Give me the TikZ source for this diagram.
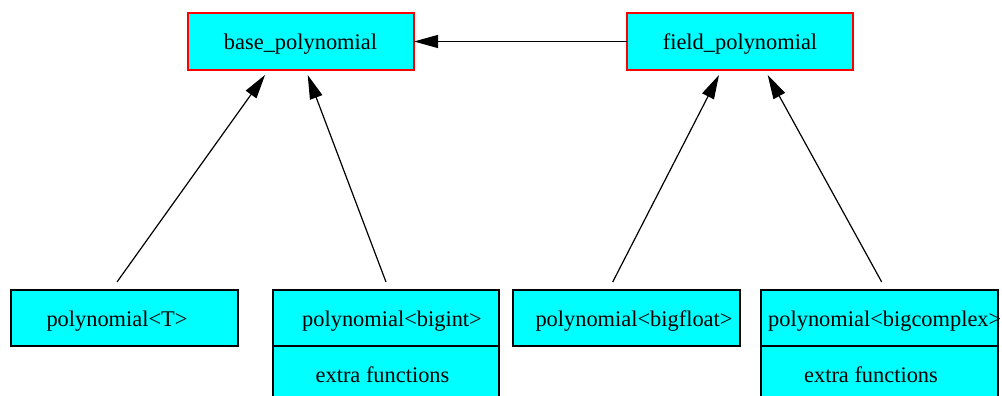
\documentclass[tikz,border=0pt]{standalone}
\usepackage{fontspec}
\setmainfont{Liberation Serif}
\usetikzlibrary{arrows.meta}
\definecolor{boxfill}{RGB}{0,255,255}
\definecolor{boxred}{RGB}{255,0,0}
\begin{document}
\begin{tikzpicture}[x=1pt,y=-1pt,
  box/.style={draw=black, fill=boxfill, line width=1.3pt, inner sep=0pt, outer sep=0pt, minimum height=56pt},
  basebox/.style={box, draw=boxred, minimum height=57pt, minimum width=226pt},
  lbl/.style={inner sep=0pt, anchor=base, font=\fontsize{22.4}{26}\selectfont},
  inherit/.style={line width=1.2pt, -{Triangle[length=24pt,width=13pt]}}]
\useasboundingbox (0,0) rectangle (1002,396);
\clip (0,0) rectangle (1002,396);

% base classes
\node[basebox] (base) at (301,41.5) {};
\node[basebox] (field) at (740,41.5) {};
\node[lbl] (baseL) at (300.5,49.5) {base\_polynomial};
\node[lbl] (fieldL) at (740,49.5) {field\_polynomial};

% derived classes
\node[box, minimum width=227pt] (pT) at (124.5,318) {};
\node[box, minimum width=226pt] (pint) at (386,318) {};
\node[box, minimum width=226pt, minimum height=57pt] (pintX) at (386,374.5) {};
\node[box, minimum width=227pt] (pflt) at (626.5,318) {};
\node[box, minimum width=237pt] (pcpx) at (879.5,318) {};
\node[box, minimum width=237pt, minimum height=57pt] (pcpxX) at (879.5,374.5) {};

\node[lbl] (pTL) at (117,326.5) {polynomial<T>};
\node[lbl] (pintL) at (392,326.5) {polynomial<bigint>};
\node[lbl] (pintXL) at (382.5,382) {extra functions};
\node[lbl] (pfltL) at (634,326.5) {polynomial<bigfloat>};
\node[lbl, anchor=base west] (pcpxL) at (768,326.5) {polynomial<bigcomplex>};
\node[lbl] (pcpxXL) at (871,382) {extra functions};

% inheritance arrows
\draw[inherit] (field.west) -- (base.east);
\draw[inherit] ([shift={(-7.5,-8)}]pT.north) -- ([shift={(-36,5)}]base.south);
\draw[inherit] ([shift={(0,-8)}]pint.north) -- ([shift={(6.7,5)}]base.south);
\draw[inherit] ([shift={(-13.8,-8)}]pflt.north) -- ([shift={(-21,5)}]field.south);
\draw[inherit] ([shift={(2.2,-8)}]pcpx.north) -- ([shift={(27.7,5)}]field.south);
\end{tikzpicture}
\end{document}
